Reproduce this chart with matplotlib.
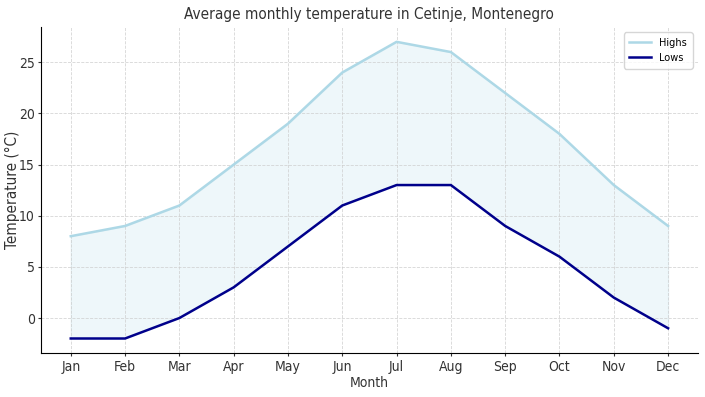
import matplotlib
matplotlib.use("Agg")
import matplotlib.pyplot as plt

months = ["Jan", "Feb", "Mar", "Apr", "May", "Jun", "Jul", "Aug", "Sep", "Oct", "Nov", "Dec"]
highs = [8, 9, 11, 15, 19, 24, 27, 26, 22, 18, 13, 9]
lows = [-2, -2, 0, 3, 7, 11, 13, 13, 9, 6, 2, -1]

plt.rcParams['font.family'] = ['DejaVu Sans']
plt.rcParams['font.stretch'] = 'condensed'
fig, ax = plt.subplots(figsize=(7.05, 3.97), dpi=100)
x = list(range(len(months)))
ax.plot(x, highs, color="lightblue", linewidth=1.8, label="Highs")
ax.plot(x, lows, color="darkblue", linewidth=1.8, label="Lows")
ax.fill_between(x, lows, highs, color="lightblue", alpha=0.2)
ax.set_xticks(x)
ax.set_xticklabels(months)
ax.set_title("Average monthly temperature in Cetinje, Montenegro", fontsize=11, color="#333333")
ax.set_xlabel("Month", fontsize=10, color="#333333", labelpad=2)
ax.set_ylabel("Temperature (°C)", fontsize=11, color="#333333")
ax.yaxis.set_label_coords(-0.032, 0.5)
ax.tick_params(labelsize=10, colors="#333333", length=2.5, pad=2)
ax.grid(True, linestyle="--", color="#cccccc", linewidth=0.6, alpha=0.8)
ax.spines["top"].set_visible(False)
ax.spines["right"].set_visible(False)
ax.legend(loc="upper right", fontsize=7.8, borderpad=0.5, handlelength=2.0)
fig.subplots_adjust(left=0.058, right=0.99, top=0.932, bottom=0.11)
fig.savefig("out.png")
